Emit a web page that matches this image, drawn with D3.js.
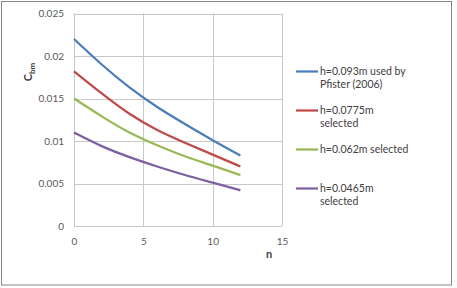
<!DOCTYPE html>
<html>
<head>
<meta charset="utf-8">
<script src="https://cdn.jsdelivr.net/npm/d3@7"></script>
<style>
  body { margin: 0; background: #fff; }
  svg { display: block; }
  .tick text { font-family: Lato, "Liberation Sans", sans-serif; font-size: 10px; fill: #595959; }
  .legend text { font-family: Lato, "Liberation Sans", sans-serif; font-size: 10.5px; fill: #404040; }
</style>
</head>
<body>
<svg id="chart" width="457" height="288"></svg>
<script>
// chart data
var nValues = [0, 2, 4, 6, 8, 10, 12];
var cbmH093 = [0.0220, 0.0190, 0.0163, 0.0140, 0.0120, 0.0101, 0.0083];
var cbmH0775 = [0.0182, 0.0156, 0.0132, 0.0113, 0.0098, 0.0084, 0.0070];
var cbmH062 = [0.0150, 0.0129, 0.0110, 0.0095, 0.0082, 0.0071, 0.0060];
var cbmH0465 = [0.0110, 0.0094, 0.0081, 0.0070, 0.0060, 0.0051, 0.0042];
var seriesNames = [
  ['h=0.093m used by', 'Pfister (2006)'],
  ['h=0.0775m', 'selected'],
  ['h=0.062m selected'],
  ['h=0.0465m', 'selected']
];
var xTicks = [0, 5, 10, 15];
var yTicks = [0, 0.005, 0.01, 0.015, 0.02, 0.025];

var colors = ['#4a7ebb', '#be4b48', '#98b954', '#7d60a0'];
var allSeries = [cbmH093, cbmH0775, cbmH062, cbmH0465];

var svg = d3.select('#chart');

// outer chart border
svg.append('rect')
  .attr('x', 1.5).attr('y', 1.5)
  .attr('width', 450).attr('height', 283.5)
  .attr('fill', '#fff').attr('stroke', '#868686').attr('stroke-width', 1);

var x = d3.scaleLinear().domain([0, 15]).range([74, 282]);
var y = d3.scaleLinear().domain([0, 0.025]).range([226, 13.5]);

// gridlines
var grid = svg.append('g');
grid.selectAll('.hg').data(yTicks).enter().append('line')
  .attr('x1', x(0)).attr('x2', x(15))
  .attr('y1', function(d) { return Math.round(y(d)) + 0.5; })
  .attr('y2', function(d) { return Math.round(y(d)) + 0.5; })
  .attr('stroke', '#c8c8c8');
grid.selectAll('.vg').data(xTicks).enter().append('line')
  .attr('y1', y(0)).attr('y2', y(0.025))
  .attr('x1', function(d) { return Math.round(x(d)) + 0.5; })
  .attr('x2', function(d) { return Math.round(x(d)) + 0.5; })
  .attr('stroke', '#c8c8c8');

// axes (labels only, lines drawn by grid)
var yAxis = d3.axisLeft(y).tickValues(yTicks).tickSize(0).tickPadding(10)
  .tickFormat(function(d) { return d === 0 ? '0' : String(+d.toFixed(3)); });
svg.append('g').attr('transform', 'translate(' + x(0) + ',0)').call(yAxis)
  .call(function(g) { g.select('.domain').remove(); });

var xAxis = d3.axisBottom(x).tickValues(xTicks).tickSize(0).tickPadding(12);
svg.append('g').attr('transform', 'translate(0,' + y(0) + ')').call(xAxis)
  .call(function(g) { g.select('.domain').remove(); });

// axis titles
svg.append('text')
  .attr('x', 269).attr('y', 258)
  .attr('text-anchor', 'middle')
  .attr('font-family', 'Lato, "Liberation Sans", sans-serif')
  .attr('font-size', 11).attr('font-weight', 'bold').attr('fill', '#404040')
  .text('n');

var yt = svg.append('text')
  .attr('transform', 'translate(32,72) rotate(-90)')
  .attr('text-anchor', 'middle')
  .attr('font-family', 'Lato, "Liberation Sans", sans-serif')
  .attr('font-size', 11).attr('font-weight', 'bold').attr('fill', '#404040');
yt.append('tspan').text('C');
yt.append('tspan').attr('font-size', 8).attr('dy', 3).text('bm');

// series lines
var line = d3.line()
  .x(function(d, i) { return x(nValues[i]); })
  .y(function(d) { return y(d); })
  .curve(d3.curveNatural);

svg.append('g').selectAll('path').data(allSeries).enter().append('path')
  .attr('d', line)
  .attr('fill', 'none')
  .attr('stroke', function(d, i) { return colors[i]; })
  .attr('stroke-width', 2.25);

// legend
var legendY = [71.5, 110.5, 149.5, 188.5];
var legend = svg.append('g').attr('class', 'legend');
seriesNames.forEach(function(lines, i) {
  legend.append('line')
    .attr('x1', 296).attr('x2', 318)
    .attr('y1', legendY[i]).attr('y2', legendY[i])
    .attr('stroke', colors[i]).attr('stroke-width', 2.25);
  var t = legend.append('text').attr('x', 320).attr('y', legendY[i] + 3.5);
  lines.forEach(function(s, j) {
    t.append('tspan').attr('x', 320).attr('dy', j ? 12.5 : 0).text(s);
  });
});
</script>
</body>
</html>
